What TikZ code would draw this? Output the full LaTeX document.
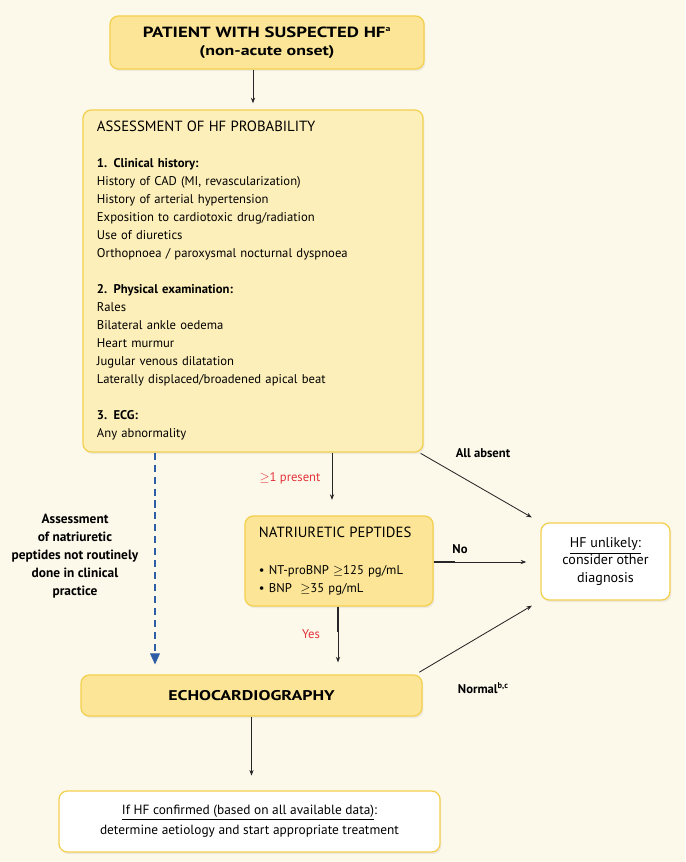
\documentclass[tikz,border=0pt]{standalone}
\usepackage{fontspec}
\setmainfont{PT Sans}
\newfontfamily\headfont[FakeStretch=1.27]{PT Sans}
\usepackage{xcolor}
\usetikzlibrary{arrows.meta, positioning, calc, shadows}

\definecolor{pagebg}{HTML}{FDF9EA}
\definecolor{boxfill}{HTML}{FCE596}
\definecolor{softfill}{HTML}{FDEFB9}
\definecolor{boxline}{HTML}{F3D04F}
\definecolor{labred}{HTML}{E2333B}
\definecolor{dashblue}{HTML}{2E5FA6}

\begin{document}
\begin{tikzpicture}[
  x=0.025cm, y=-0.025cm,
  font=\fontsize{9}{12.8}\selectfont,
  box/.style={rectangle, rounded corners=6pt, draw=boxline, line width=0.9pt,
              fill=boxfill, inner sep=0pt,
              drop shadow={opacity=0.12, shadow xshift=1pt, shadow yshift=-1.5pt}},
  softbox/.style={box, fill=softfill},
  whitebox/.style={box, fill=white},
  arr/.style={-{Stealth[length=4pt, width=3pt]}, line width=0.6pt, black!85},
  stub/.style={line width=1.6pt, black!85},
  dasharr/.style={-{Triangle[length=8pt, width=7pt]}, dashblue, line width=0.9pt,
                  dash pattern=on 5pt off 3.5pt},
  note/.style={font=\fontsize{9}{12.8}\selectfont\bfseries, align=center},
  redlab/.style={font=\fontsize{9}{12.8}\selectfont, text=labred},
]
  % page
  \fill[pagebg] (0,0) rectangle (685,862);
  \useasboundingbox (0,0) rectangle (685,862);

  % boxes
  \node[box, minimum width=7.85cm, minimum height=1.325cm, align=center] (patient) at (267,42.5)
    {{\headfont\fontsize{10.5}{15}\selectfont\bfseries PATIENT WITH SUSPECTED HF\textsuperscript{\fontsize{5.5}{6}\selectfont a}}\\
     {\headfont\fontsize{10}{12}\selectfont\bfseries (non-acute onset)}};

  \node[softbox, minimum width=8.5cm, minimum height=8.55cm, text width=7.8cm, align=left] (assess) at (253,281)
    {{\fontsize{10.5}{12.8}\selectfont ASSESSMENT OF HF PROBABILITY}\\[\baselineskip]
     \textbf{1. Clinical history:}\\
     History of CAD (MI, revascularization)\\
     History of arterial hypertension\\
     Exposition to cardiotoxic drug/radiation\\
     Use of diuretics\\
     Orthopnoea / paroxysmal nocturnal dyspnoea\\[\baselineskip]
     \textbf{2. Physical examination:}\\
     Rales\\
     Bilateral ankle oedema\\
     Heart murmur\\
     Jugular venous dilatation\\
     Laterally displaced/broadened apical beat\\[\baselineskip]
     \textbf{3. ECG:}\\
     Any abnormality};

  \node[box, minimum width=4.7cm, minimum height=2.25cm, text width=4.0cm, align=left] (peptides) at (339,561)
    {{\fontsize{10.5}{12.8}\selectfont NATRIURETIC PEPTIDES}\\[14pt]
     \textbullet~NT-proBNP $\geq$125 pg/mL\\
     \textbullet~BNP\ \ $\geq$35 pg/mL};

  \node[whitebox, minimum width=3.225cm, minimum height=1.925cm, align=center,
        font=\fontsize{10}{12.1}\selectfont] (unlikely) at (605.5,561.5)
    {\underline{HF unlikely:}\\ consider other\\ diagnosis};

  \node[box, minimum width=8.525cm, minimum height=1.025cm,
        font=\headfont\fontsize{10}{13}\selectfont\bfseries] (echo) at (251.5,695.5)
    {ECHOCARDIOGRAPHY};

  \node[whitebox, minimum width=9.525cm, minimum height=1.525cm, align=center,
        font=\fontsize{9.5}{14.2}\selectfont] (confirmed) at (249.5,821.5)
    {\underline{If HF confirmed (based on all available data)}:\\
     determine aetiology and start appropriate treatment};

  % side notes
  \node[note, font=\fontsize{9.5}{12.8}\selectfont\bfseries] (routine) at (75,556)
    {Assessment\\ of natriuretic\\ peptides not routinely\\ done in clinical\\ practice};
  \node[note] (absentlab) at (483,453) {All absent};
  \node[redlab] (presentlab) at (290,478) {$\geq$1 present};
  \node[note] (nolab) at (460,549) {No};
  \node[redlab] (yeslab) at (311,634) {Yes};
  \node[note, anchor=west] (normallab) at (453,688) {Normal\textsuperscript{b,c}};

  % connectors
  \coordinate (dashx) at (155,452);
  \coordinate (presx) at (332,452);
  \coordinate (nostub) at (455,562);
  \coordinate (yesstub) at (338,632);

  \draw[arr, shorten >=4.3pt] (patient.south -| assess.north) -- (assess.north);
  \draw[dasharr, shorten >=7pt] (assess.south -| dashx) -- (echo.north -| dashx);
  \draw[arr, shorten >=11pt] (assess.south -| presx) -- (peptides.north -| presx);
  \draw[arr, shorten <=1pt, shorten >=7pt] ([xshift=-3pt]assess.south east) -- (unlikely.north west);
  \draw[stub] (peptides.east |- nostub) -- (nostub);
  \draw[arr, shorten >=10pt] (peptides.east |- nostub) -- (unlikely.west |- nostub);
  \draw[stub] (peptides.south -| yesstub) -- (yesstub);
  \draw[arr, shorten >=8.5pt] (peptides.south -| yesstub) -- (echo.north -| yesstub);
  \draw[arr, shorten <=3pt, shorten >=7pt] ([xshift=-5pt]echo.north east) -- (unlikely.south west);
  \draw[arr, shorten >=10.5pt] (echo.south) -- (confirmed.north -| echo.south);
\end{tikzpicture}
\end{document}
